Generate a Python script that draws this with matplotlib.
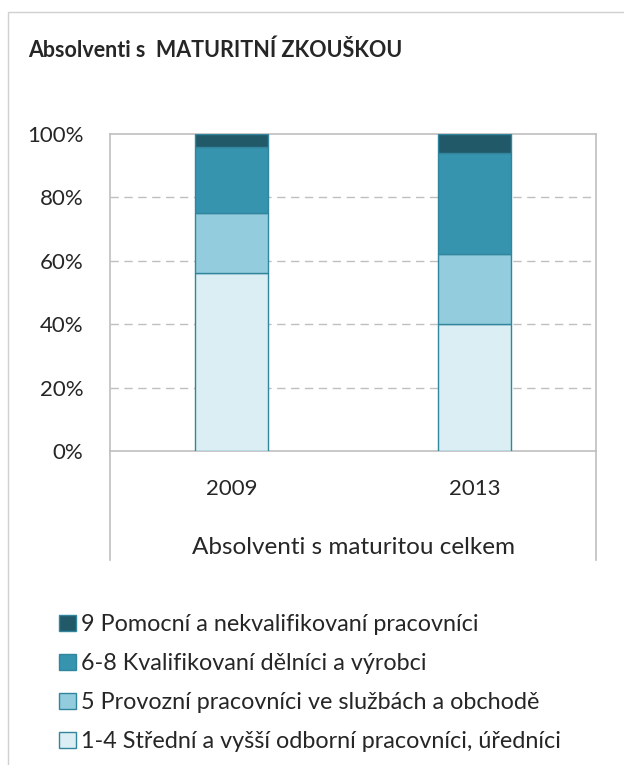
import matplotlib
matplotlib.use("Agg")
import matplotlib.pyplot as plt
from matplotlib.patches import Rectangle
from matplotlib.lines import Line2D

plt.rcParams["font.family"] = ["Lato", "DejaVu Sans"]

# data (shares of graduates, %)
years = ["2009", "2013"]
group_label = "Absolventi s maturitou celkem"
series_names = [
    "1-4 Střední a vyšší odborní pracovníci, úředníci",
    "5 Provozní pracovníci ve službách a obchodě",
    "6-8 Kvalifikovaní dělníci a výrobci",
    "9 Pomocní a nekvalifikovaní pracovníci",
]
share_1_4 = [56, 40]
share_5 = [19, 22]
share_6_8 = [21, 32]
share_9 = [4, 6]
series_values = [share_1_4, share_5, share_6_8, share_9]
colors = ["#DAEEF3", "#93CDDD", "#3694AF", "#215968"]
edge = "#31859C"
frame_col = "#BFBFBF"
text_col = "#262626"

fig = plt.figure(figsize=(6.24, 7.65), dpi=100)
W, H = 624, 765

# outer chart border
fig.patches.append(Rectangle((8 / W, -0.1), 1.2, 1 - 12 / H + 0.1,
                             transform=fig.transFigure, fill=False,
                             edgecolor="#D0D0D0", lw=1))

ax = fig.add_axes([110 / W, 1 - 451 / H, 486 / W, 317 / H])

x = range(len(years))
bottom = [0, 0]
handles = []
for name, vals, c in zip(series_names, series_values, colors):
    b = ax.bar(x, vals, bottom=bottom, width=0.3, color=c, edgecolor=edge,
               linewidth=1, label=name, zorder=3)
    handles.append(b)
    bottom = [bo + v for bo, v in zip(bottom, vals)]

ax.set_xlim(-0.5, 1.5)
ax.set_ylim(0, 100)
yt = [0, 20, 40, 60, 80, 100]
ax.set_yticks(yt)
ax.set_yticklabels([f"{t}%" for t in yt], fontsize=16, color=text_col)
ax.tick_params(axis="y", length=0, pad=19)
ax.set_xticks(list(x))
ax.set_xticklabels(years, fontsize=16, color=text_col)
ax.tick_params(axis="x", length=0, pad=20)

for yv in [20, 40, 60, 80]:
    ax.axhline(yv, color="#BFBFBF", lw=1, ls=(0, (6, 4)), zorder=1)
for s in ax.spines.values():
    s.set_color(frame_col)
    s.set_linewidth(1.2)

# multi-level category axis
for xa in [0, 1]:
    ax.add_line(Line2D([xa, xa], [0, -(560 - 451) / 317], transform=ax.transAxes,
                       color=frame_col, lw=1.2, clip_on=False))
ax.text(0.5, -(547 - 451) / 317, group_label, transform=ax.transAxes,
        ha="center", va="center", fontsize=17.5, color=text_col)

fig.text(28 / W, 1 - 50 / H, "Absolventi s  MATURITNÍ ZKOUŠKOU",
         fontsize=15.5, fontweight="bold", color=text_col, va="center")

fig.legend(handles[::-1], series_names[::-1], loc="upper left",
           bbox_to_anchor=(38 / W, 1 - 593 / H), frameon=False,
           fontsize=16.8, handlelength=0.73, handleheight=0.68,
           handletextpad=0.22, labelspacing=0.77, labelcolor=text_col)

fig.savefig("out.png", dpi=100)
